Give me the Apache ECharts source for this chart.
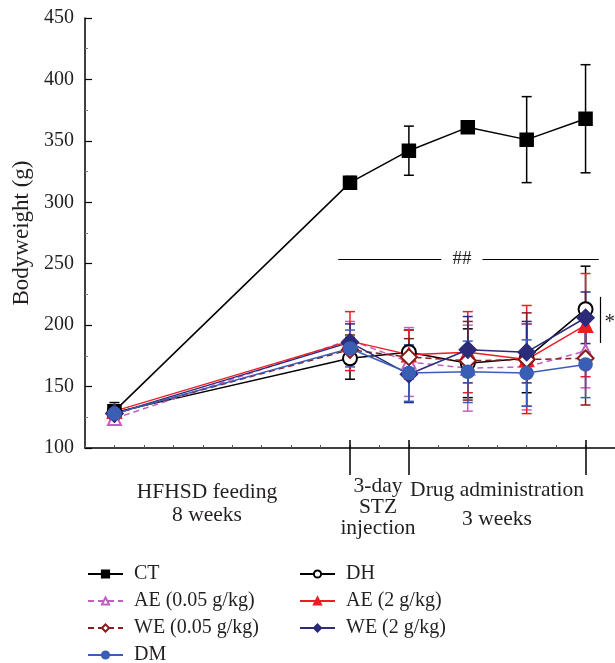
<!DOCTYPE html>
<html lang="en">
<head>
<meta charset="utf-8">
<title>bodyweight</title>
<script src="https://cdn.jsdelivr.net/npm/echarts@6/dist/echarts.min.js"></script>
<style>
    html, body {margin: 0; padding: 0; background: #fff;}
    #main {width: 615px; height: 663px;}
</style>
</head>
<body>
<div id="main"></div>
<script>
// x positions in minor-tick units (start, end of feeding, after STZ, then drug weeks)
var timePoints = [1, 9, 11, 13, 15, 17];

var ctMean = [130, 316, 342, 361, 351, 368];
var ctErr = [7, 5, 20, 3, 35, 44];
var dhMean = [129, 173, 178, 169, 173, 213];
var dhErr = [5, 17, 18, 28, 28, 35];
var aeLowMean = [124, 188, 170, 165, 166, 179];
var aeLowErr = [4, 15, 28, 35, 35, 30];
var aeHighMean = [130, 187, 176, 178, 172, 200];
var aeHighErr = [5, 24, 20, 33, 44, 42];
var weLowMean = [128, 180, 174, 171, 172, 173];
var weLowErr = [4, 12, 15, 32, 38, 38];
var weHighMean = [128, 186, 160, 180, 178, 206];
var weHighErr = [4, 15, 23, 27, 25, 21];
var dmMean = [128, 181, 161, 162, 161, 168];
var dmErr = [4, 15, 23, 25, 27, 27];

var phaseTicks = [9, 11, 17];

var FONT = 'Liberation Serif';
var INK = '#231f20';

var chart = echarts.init(document.getElementById('main'));

function pairs(means) {
    return timePoints.map(function (t, i) { return [t, means[i]]; });
}

// 误差棒
function errorBars(name, color, means, errs) {
    return {
        type: 'custom',
        name: name + ' sd',
        z: 1,
        silent: true,
        data: timePoints.map(function (t, i) { return [t, means[i] - errs[i], means[i] + errs[i]]; }),
        encode: {x: 0, y: [1, 2]},
        renderItem: function (params, api) {
            var lo = api.coord([api.value(0), api.value(1)]);
            var hi = api.coord([api.value(0), api.value(2)]);
            var w = 5;
            var st = {stroke: color, lineWidth: 1.5};
            return {
                type: 'group', children: [
                    {type: 'line', shape: {x1: lo[0], y1: lo[1], x2: hi[0], y2: hi[1]}, style: st},
                    {type: 'line', shape: {x1: lo[0] - w, y1: lo[1], x2: lo[0] + w, y2: lo[1]}, style: st},
                    {type: 'line', shape: {x1: hi[0] - w, y1: hi[1], x2: hi[0] + w, y2: hi[1]}, style: st}
                ]
            };
        }
    };
}

function lineSeries(name, color, means, symbol, size, dashed) {
    return {
        type: 'line',
        name: name,
        z: 3,
        data: pairs(means),
        symbol: symbol,
        symbolSize: size,
        color: color,
        lineStyle: {color: color, width: 1.5, type: dashed ? [6, 4] : 'solid'},
        itemStyle: {color: color, borderColor: color, borderWidth: 1.5},
        emphasis: {disabled: true}
    };
}

var groups = [
    {name: 'CT', color: '#000000', mean: ctMean, err: ctErr, symbol: 'rect', size: 13, dashed: false},
    {name: 'DH', color: '#000000', mean: dhMean, err: dhErr, symbol: 'emptyCircle', size: 14, dashed: false},
    {name: 'AE (0.05 g/kg)', color: '#c060c0', mean: aeLowMean, err: aeLowErr, symbol: 'emptyTriangle', size: 13, dashed: true},
    {name: 'AE (2 g/kg)', color: '#ee1c25', mean: aeHighMean, err: aeHighErr, symbol: 'triangle', size: 14, dashed: false},
    {name: 'WE (0.05 g/kg)', color: '#8b1a1a', mean: weLowMean, err: weLowErr, symbol: 'emptyDiamond', size: 16, dashed: true},
    {name: 'WE (2 g/kg)', color: '#2b2b7a', mean: weHighMean, err: weHighErr, symbol: 'diamond', size: 17, dashed: false},
    {name: 'DM', color: '#3a5db5', mean: dmMean, err: dmErr, symbol: 'circle', size: 13, dashed: false}
];

var series = [];
groups.forEach(function (g) {
    series.push(errorBars(g.name, g.color, g.mean, g.err));
});
groups.forEach(function (g) {
    series.push(lineSeries(g.name, g.color, g.mean, g.symbol, g.size, g.dashed));
});

// 显著性标注
series[7].markLine = {
    silent: true,
    symbol: ['none', 'none'],
    label: {show: false},
    lineStyle: {color: '#000', width: 1.2, type: 'solid'},
    data: [
        [{coord: [8.6, 253.5]}, {coord: [12.1, 253.5]}],
        [{coord: [13.5, 253.5]}, {coord: [17.45, 253.5]}],
        [{coord: [17.5, 223]}, {coord: [17.5, 185.5]}]
    ]
};
series[7].markPoint = {
    silent: true,
    symbol: 'circle',
    symbolSize: 0,
    label: {show: true, position: 'inside', fontFamily: FONT, fontSize: 19, color: INK},
    data: [
        {coord: [12.8, 254], value: '##', label: {formatter: '##'}},
        {coord: [17.82, 202], value: '*', label: {formatter: '*', fontSize: 21}}
    ]
};

var legendText = {fontFamily: FONT, fontSize: 20, color: INK, padding: [0, 0, 0, 6]};

var option = {
    animation: false,
    backgroundColor: '#fff',
    grid: {left: 85, right: 0, top: 18, bottom: 215},
    xAxis: [
        {
            type: 'value', min: 0, max: 18, interval: 1,
            axisLine: {lineStyle: {color: '#000', width: 1.5}},
            axisTick: {inside: true, length: 3, lineStyle: {color: '#555', width: 1}},
            axisLabel: {show: false},
            splitLine: {show: false}
        },
        {
            type: 'value', min: 0, max: 18, position: 'bottom',
            axisLine: {show: false},
            axisTick: {show: true, inside: false, length: 27, customValues: phaseTicks, lineStyle: {color: '#000', width: 1.5}},
            axisLabel: {show: false},
            splitLine: {show: false}
        },
        {
            type: 'value', min: 0, max: 18, position: 'bottom',
            axisLine: {show: false},
            axisTick: {show: true, inside: true, length: 8, customValues: phaseTicks, lineStyle: {color: '#000', width: 1.5}},
            axisLabel: {show: false},
            splitLine: {show: false}
        }
    ],
    yAxis: {
        type: 'value', min: 100, max: 450, interval: 50,
        name: 'Bodyweight (g)',
        nameLocation: 'middle',
        nameGap: 48,
        nameTextStyle: {fontFamily: FONT, fontSize: 23, color: INK},
        axisLine: {show: true, lineStyle: {color: '#000', width: 1.5}},
        axisTick: {inside: true, length: 7, lineStyle: {color: '#000', width: 1.2}},
        minorTick: {show: true, splitNumber: 2, length: 3, lineStyle: {color: '#777'}},
        axisLabel: {fontFamily: FONT, fontSize: 20, color: INK, margin: 11},
        splitLine: {show: false}
    },
    legend: [
        {
            orient: 'vertical', left: 82, top: 559, height: 120,
            itemWidth: 35, itemHeight: 9, itemGap: 7,
            textStyle: legendText,
            data: ['CT', 'AE (0.05 g/kg)', 'WE (0.05 g/kg)', 'DM'],
            selectedMode: false
        },
        {
            orient: 'vertical', left: 294, top: 559, height: 120,
            itemWidth: 35, itemHeight: 9, itemGap: 7,
            textStyle: legendText,
            data: ['DH', 'AE (2 g/kg)', 'WE (2 g/kg)'],
            selectedMode: false
        }
    ],
    graphic: [
        {type: 'text', x: 207, y: 481,
            style: {text: 'HFHSD feeding\n8 weeks', font: '21.5px "Liberation Serif"', fill: INK, textAlign: 'center', lineHeight: 23}},
        {type: 'text', x: 378, y: 476,
            style: {text: '3-day\nSTZ\ninjection', font: '21.5px "Liberation Serif"', fill: INK, textAlign: 'center', lineHeight: 21}},
        {type: 'text', x: 497, y: 476,
            style: {text: 'Drug administration\n3 weeks', font: '21.5px "Liberation Serif"', fill: INK, textAlign: 'center', lineHeight: 29}}
    ],
    series: series
};

chart.setOption(option);
</script>
</body>
</html>
